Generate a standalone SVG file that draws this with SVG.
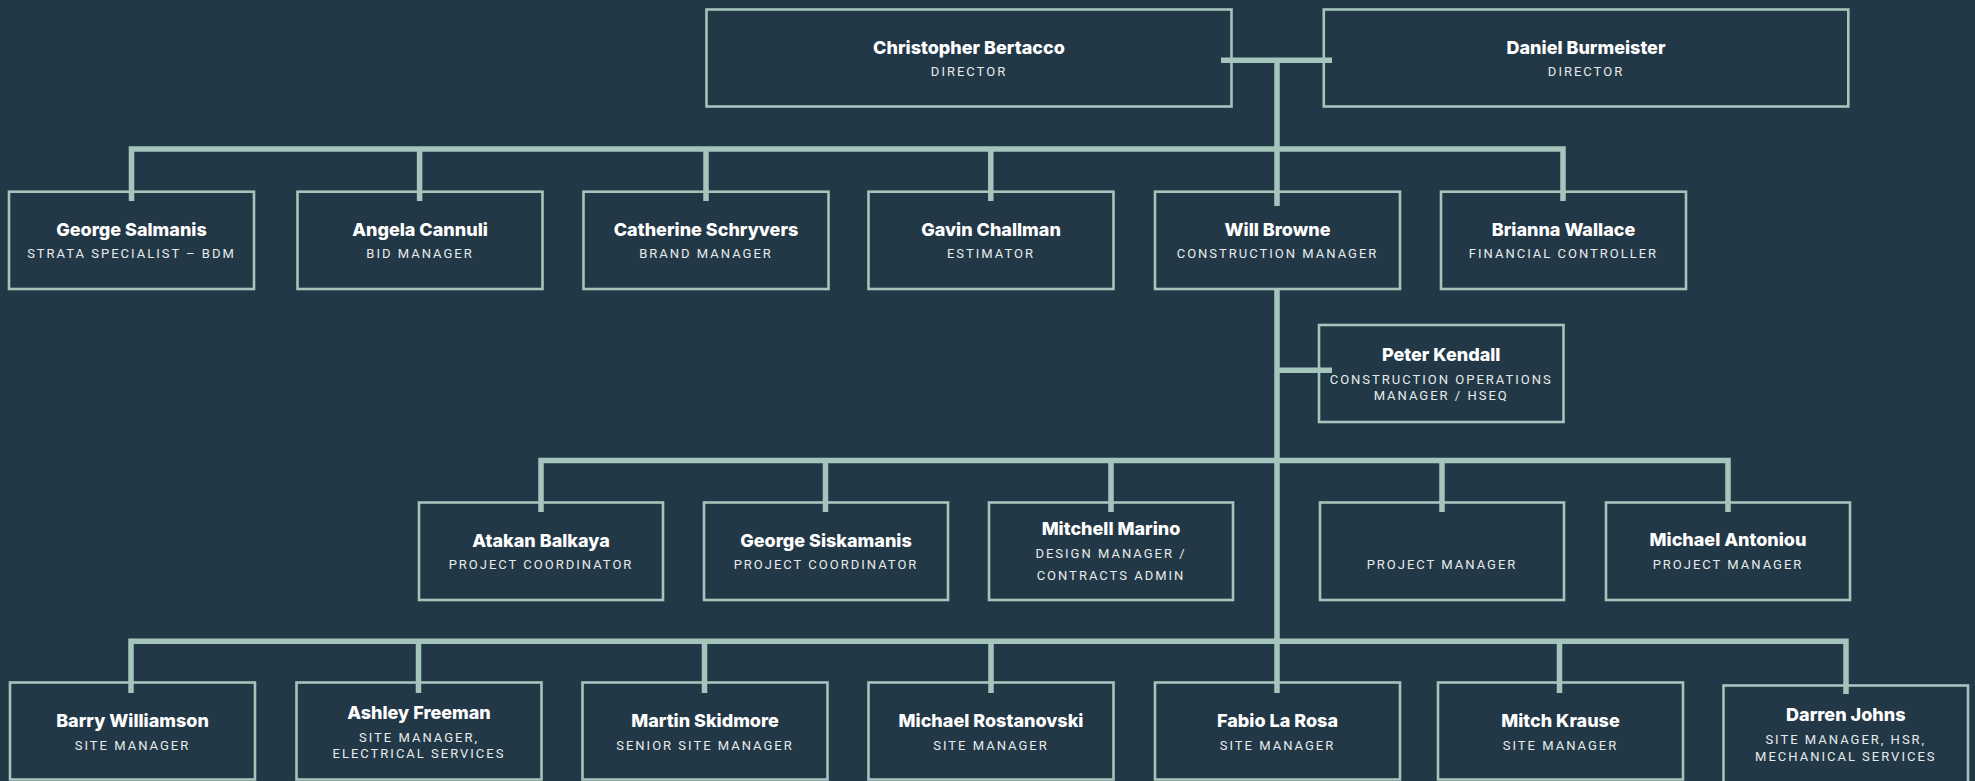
<svg xmlns="http://www.w3.org/2000/svg" width="1975" height="781" viewBox="0 0 1975 781">
<style>
.bg{fill:#233847}
.box{fill:#233847;stroke:#a5c4bc;stroke-width:2.6}
.ln{fill:none;stroke:#a5c4bc;stroke-width:5.5;stroke-linejoin:miter;stroke-linecap:butt}
.nm{font-family:Inter,Roboto,"Liberation Sans",sans-serif;font-weight:800;font-size:18px;fill:#ffffff;text-anchor:middle}
.rl{font-family:Roboto,"Liberation Sans",sans-serif;font-weight:400;font-size:13px;letter-spacing:2px;fill:#e6ecec;text-anchor:middle}
</style>
<rect class="bg" x="0" y="0" width="1975" height="781"/>

<g id="n-christopher"><rect class="box" x="706.5" y="9.5" width="525" height="97"/><text class="nm" x="969" y="53.5">Christopher Bertacco</text><text class="rl" x="969" y="76">DIRECTOR</text></g>
<g id="n-daniel"><rect class="box" x="1323.8" y="9.5" width="524.5" height="97"/><text class="nm" x="1586" y="53.5">Daniel Burmeister</text><text class="rl" x="1586" y="76">DIRECTOR</text></g>

<g id="n-george-salmanis"><rect class="box" x="9" y="191.7" width="245" height="97.3"/><text class="nm" x="131.5" y="236.3">George Salmanis</text><text class="rl" x="131.5" y="258">STRATA SPECIALIST – BDM</text></g>
<g id="n-angela"><rect class="box" x="297.5" y="191.7" width="245" height="97.3"/><text class="nm" x="420" y="236.3">Angela Cannuli</text><text class="rl" x="420" y="258">BID MANAGER</text></g>
<g id="n-catherine"><rect class="box" x="583.5" y="191.7" width="245" height="97.3"/><text class="nm" x="706" y="236.3">Catherine Schryvers</text><text class="rl" x="706" y="258">BRAND MANAGER</text></g>
<g id="n-gavin"><rect class="box" x="868.5" y="191.7" width="245" height="97.3"/><text class="nm" x="991" y="236.3">Gavin Challman</text><text class="rl" x="991" y="258">ESTIMATOR</text></g>
<g id="n-will"><rect class="box" x="1155" y="191.7" width="245" height="97.3"/><text class="nm" x="1277.5" y="236.3">Will Browne</text><text class="rl" x="1277.5" y="258">CONSTRUCTION MANAGER</text></g>
<g id="n-brianna"><rect class="box" x="1441" y="191.7" width="245" height="97.3"/><text class="nm" x="1563.5" y="236.3">Brianna Wallace</text><text class="rl" x="1563.5" y="258">FINANCIAL CONTROLLER</text></g>

<g id="n-peter"><rect class="box" x="1319" y="325" width="244.5" height="97"/><text class="nm" x="1441.2" y="360.7">Peter Kendall</text><text class="rl" x="1441.2" y="384.3">CONSTRUCTION OPERATIONS</text><text class="rl" x="1441.2" y="400.3">MANAGER / HSEQ</text></g>

<g id="n-atakan"><rect class="box" x="419" y="502.5" width="244" height="97.5"/><text class="nm" x="541" y="546.7">Atakan Balkaya</text><text class="rl" x="541" y="569.3">PROJECT COORDINATOR</text></g>
<g id="n-george-siskamanis"><rect class="box" x="704" y="502.5" width="244" height="97.5"/><text class="nm" x="826" y="546.7">George Siskamanis</text><text class="rl" x="826" y="569.3">PROJECT COORDINATOR</text></g>
<g id="n-mitchell"><rect class="box" x="989" y="502.5" width="244" height="97.5"/><text class="nm" x="1111" y="535">Mitchell Marino</text><text class="rl" x="1111" y="558.3">DESIGN MANAGER /</text><text class="rl" x="1111" y="580.3">CONTRACTS ADMIN</text></g>
<g id="n-project-manager"><rect class="box" x="1320" y="502.5" width="244" height="97.5"/><text class="rl" x="1442" y="569.3">PROJECT MANAGER</text></g>
<g id="n-michael-antoniou"><rect class="box" x="1606" y="502.5" width="244" height="97.5"/><text class="nm" x="1728" y="546.3">Michael Antoniou</text><text class="rl" x="1728" y="569.3">PROJECT MANAGER</text></g>

<g id="n-barry"><rect class="box" x="10" y="682.5" width="245" height="97"/><text class="nm" x="132.5" y="726.7">Barry Williamson</text><text class="rl" x="132.5" y="750">SITE MANAGER</text></g>
<g id="n-ashley"><rect class="box" x="296.5" y="682.5" width="245" height="97"/><text class="nm" x="419" y="719">Ashley Freeman</text><text class="rl" x="419" y="742">SITE MANAGER,</text><text class="rl" x="419" y="758">ELECTRICAL SERVICES</text></g>
<g id="n-martin"><rect class="box" x="582.5" y="682.5" width="245" height="97"/><text class="nm" x="705" y="726.7">Martin Skidmore</text><text class="rl" x="705" y="750">SENIOR SITE MANAGER</text></g>
<g id="n-michael-rostanovski"><rect class="box" x="868.5" y="682.5" width="245" height="97"/><text class="nm" x="991" y="726.7">Michael Rostanovski</text><text class="rl" x="991" y="750">SITE MANAGER</text></g>
<g id="n-fabio"><rect class="box" x="1155" y="682.5" width="245" height="97"/><text class="nm" x="1277.5" y="726.7">Fabio La Rosa</text><text class="rl" x="1277.5" y="750">SITE MANAGER</text></g>
<g id="n-mitch"><rect class="box" x="1438" y="682.5" width="245" height="97"/><text class="nm" x="1560.5" y="726.7">Mitch Krause</text><text class="rl" x="1560.5" y="750">SITE MANAGER</text></g>
<g id="n-darren"><rect class="box" x="1723.5" y="685.5" width="244.5" height="97"/><text class="nm" x="1845.8" y="720.7">Darren Johns</text><text class="rl" x="1845.8" y="744">SITE MANAGER, HSR,</text><text class="rl" x="1845.8" y="760.7">MECHANICAL SERVICES</text></g>

<g id="connectors">
<path class="ln" d="M1221 60.3H1332"/>
<path class="ln" d="M1277 60.3V206"/>
<path class="ln" d="M131.5 201V149H1563V201"/>
<path class="ln" d="M419.6 149V201M706 149V201M990.8 149V201"/>
<path class="ln" d="M1277 289V693"/>
<path class="ln" d="M1277 370.3H1332"/>
<path class="ln" d="M541 512V460.6H1728V512"/>
<path class="ln" d="M825.5 460.6V512M1111 460.6V512M1442 460.6V512"/>
<path class="ln" d="M131 693V641.3H1846V694"/>
<path class="ln" d="M418.5 641.3V693M704.5 641.3V693M991 641.3V693M1559.5 641.3V693"/>
</g>
</svg>
